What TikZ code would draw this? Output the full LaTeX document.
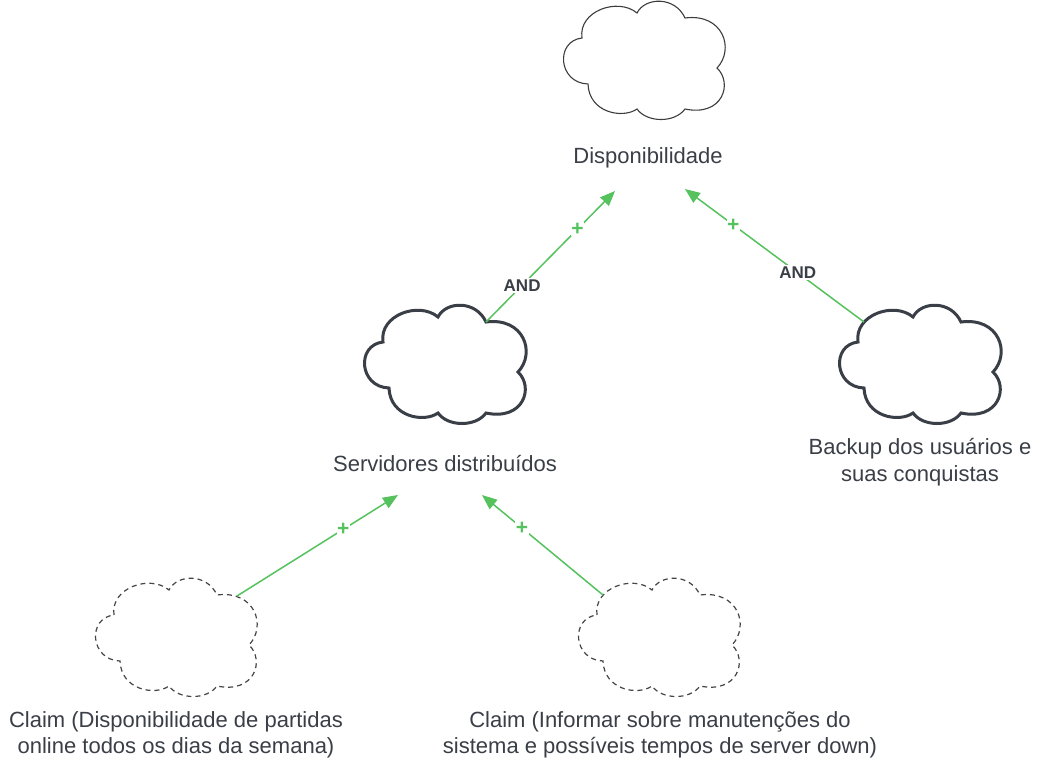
\documentclass[tikz,border=0pt]{standalone}
\usepackage{fontspec}
\setmainfont{Liberation Sans}
\usetikzlibrary{arrows.meta}
\definecolor{txt}{HTML}{3A3F47}
\definecolor{grn}{HTML}{55C25E}
\definecolor{cloudthin}{HTML}{3C3C3C}
\definecolor{clouddash}{HTML}{444444}
\tikzset{
  cloud/.pic={
    \draw (19,37) .. controls (15,10) and (55,-4) .. (74,12)
      .. controls (82,-4) and (112,-5) .. (122,17)
      .. controls (160,12) and (172,48) .. (154,67)
      .. controls (170,82) and (160,116) .. (122,108)
      .. controls (112,122) and (84,122) .. (74,108)
      .. controls (60,118) and (26,112) .. (25,83)
      .. controls (-5,82) and (-8,40) .. cycle;
    \coordinate (-j3) at (122,17);
    \coordinate (-nw) at (25,17);
    \coordinate (-ne) at (142,18);
  },
  thincloud/.style={line width=1.1pt, color=cloudthin},
  thickcloud/.style={line width=3pt, color=txt},
  dashcloud/.style={line width=1.2pt, color=clouddash, dash pattern=on 5pt off 4pt},
  conn/.style={draw=grn, line width=1.5pt, -{Triangle[length=15pt,width=12pt]}},
  andlbl/.style={fill=white, font=\fontsize{17}{17}\selectfont\bfseries, text=txt, inner sep=1.5pt},
  pluslbl/.style={fill=white, font=\fontsize{21}{21}\selectfont\bfseries, text=grn, inner sep=0.5pt},
  lbl/.style={text=txt, align=center, inner sep=0pt}
}
\begin{document}
\begin{tikzpicture}[x=1pt, y=-1pt, font=\fontsize{22}{26.4}\selectfont]
\useasboundingbox[fill=white] (0,0) rectangle (1041,768);

\pic[thincloud] (top) at (563,1) {cloud};
\pic[thickcloud] (srv) at (364,305) {cloud};
\pic[thickcloud] (bak) at (839,305) {cloud};
\pic[dashcloud] (ca) at (95,578) {cloud};
\pic[dashcloud] (cb) at (578,578) {cloud};

\node[lbl] (disp) at (648,158) {Disponibilidade};
\node[lbl] (serv) at (445,464) {Servidores distribuídos};
\node[lbl] (back) at (920,462) {Backup dos usuários e\\suas conquistas};
\node[lbl] (cl1) at (176,735) {Claim (Disponibilidade de partidas\\online todos os dias da semana)};
\node[lbl] (cl2) at (660,735) {Claim (Informar sobre manutenções do\\sistema e possíveis tempos de server down)};

\coordinate (t1) at (615,191);
\coordinate (t2) at (685,189);
\coordinate (t3) at (398,495);
\coordinate (t4) at (482,495);

\draw[conn] (srv-j3) -- node[pos=0.28, andlbl] (and1) {AND} node[pos=0.71, pluslbl] (p1) {+} (t1);
\draw[conn] (bak-nw) -- node[pos=0.37, andlbl] (and2) {AND} node[pos=0.73, pluslbl] (p2) {+} (t2);
\draw[conn] (ca-ne) -- node[pos=0.66, pluslbl] (p3) {+} (t3);
\draw[conn] (cb-nw) -- node[pos=0.67, pluslbl] (p4) {+} (t4);
\end{tikzpicture}
\end{document}
